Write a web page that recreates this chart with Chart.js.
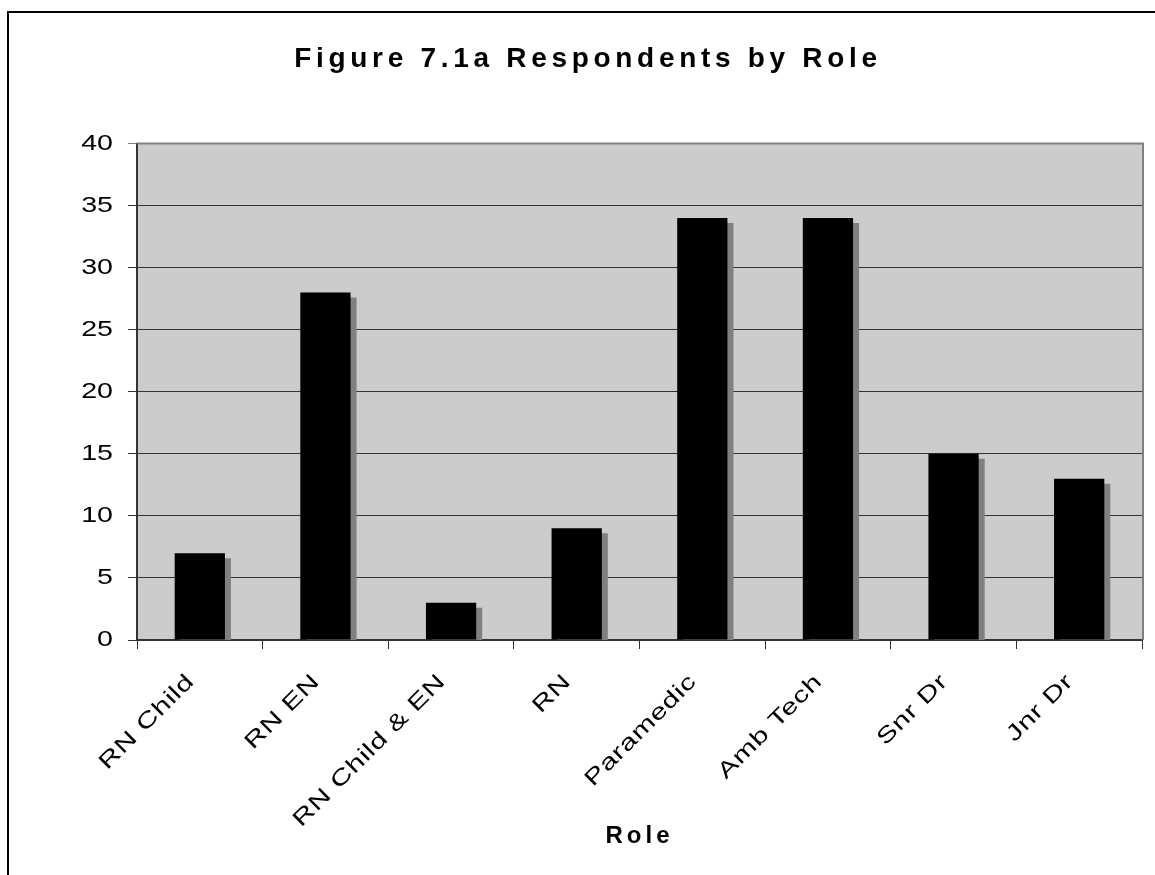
<!DOCTYPE html>
<html>
<head>
<meta charset="utf-8">
<script src="https://cdn.jsdelivr.net/npm/chart.js@4"></script>
<style>
  html, body { margin: 0; padding: 0; background: #ffffff; }
  #wrap { width: 1155px; height: 875px; }
</style>
</head>
<body>
<div id="wrap"><canvas id="c" width="1155" height="875"></canvas></div>
<script>
const categories = ["RN Child", "RN EN", "RN Child & EN", "RN", "Paramedic", "Amb Tech", "Snr Dr", "Jnr Dr"];
const respondents = [7, 28, 3, 9, 34, 34, 15, 13];
const yTicks = [0, 5, 10, 15, 20, 25, 30, 35, 40];
const chartTitle = "Figure 7.1a Respondents by Role";
const xTitle = "Role";

const FONT = "'Liberation Sans', Arial, sans-serif";

// draw text of a chart part with letter spacing and/or horizontal glyph stretch
function wrapText(ctx, obj, name, spacing, stretch) {
  if (!obj || !obj[name] || obj[name].__wrapped) return;
  const orig = obj[name];
  const f = function (...args) {
    ctx.save();
    ctx.letterSpacing = spacing;
    const protoFill = CanvasRenderingContext2D.prototype.fillText;
    if (stretch !== 1) {
      ctx.fillText = function (text, x, y) {
        ctx.save();
        ctx.translate(x, y);
        ctx.scale(stretch, 1);
        protoFill.call(ctx, text, 0, 0);
        ctx.restore();
      };
    }
    let r;
    try { r = orig.apply(this, args); }
    finally { delete ctx.fillText; ctx.restore(); }
    return r;
  };
  f.__wrapped = true;
  obj[name] = f;
}

const framePlugin = {
  id: 'frame',
  beforeDraw(chart) {
    const ctx = chart.ctx;
    const a = chart.chartArea;
    ctx.save();
    ctx.fillStyle = '#ffffff';
    ctx.fillRect(0, 0, chart.width, chart.height);
    ctx.strokeStyle = '#000000';
    ctx.lineWidth = 2;
    ctx.strokeRect(8, 12, chart.width + 20, chart.height + 20);
    ctx.fillStyle = '#cccccc';
    ctx.fillRect(a.left, a.top, a.right - a.left, a.bottom - a.top);
    ctx.restore();

    wrapText(ctx, chart.titleBlock, 'draw', '4.7px', 1);
    wrapText(ctx, chart.scales.x, 'drawTitle', '4px', 1);
    wrapText(ctx, chart.scales.x, 'drawLabels', '0.5px', 1.35);
    wrapText(ctx, chart.scales.y, 'drawLabels', '0px', 1.3);
  },
  beforeDatasetsDraw(chart) {
    const ctx = chart.ctx;
    ctx.save();
    ctx.shadowColor = '#808080';
    ctx.shadowOffsetX = 6;
    ctx.shadowOffsetY = 5;
    ctx.shadowBlur = 0;
  },
  afterDatasetsDraw(chart) {
    const ctx = chart.ctx;
    ctx.restore();
    const a = chart.chartArea;
    ctx.save();
    ctx.strokeStyle = '#808080';
    ctx.lineWidth = 2;
    ctx.beginPath();
    ctx.moveTo(a.left, a.top);
    ctx.lineTo(a.right + 1, a.top);
    ctx.lineTo(a.right + 1, a.bottom);
    ctx.stroke();
    ctx.restore();
  }
};

new Chart(document.getElementById('c'), {
  type: 'bar',
  data: {
    labels: categories,
    datasets: [{
      label: 'Respondents',
      data: respondents,
      backgroundColor: '#000000',
      borderWidth: 0,
      barPercentage: 0.4,
      categoryPercentage: 1.0,
      clip: 0
    }]
  },
  options: {
    responsive: false,
    devicePixelRatio: 1,
    animation: false,
    layout: { padding: { left: 34, right: 13, top: 0, bottom: 0 } },
    plugins: {
      legend: { display: false },
      tooltip: { enabled: false },
      title: {
        display: true,
        text: chartTitle,
        color: '#000000',
        font: { family: FONT, size: 28, weight: 'bold', lineHeight: 1.2 },
        padding: { top: 42, bottom: 68 }
      }
    },
    scales: {
      x: {
        grid: {
          display: true,
          drawOnChartArea: false,
          drawTicks: true,
          offset: true,
          tickLength: 9,
          color: '#333333',
          lineWidth: 1
        },
        border: { display: true, color: '#333333', width: 2 },
        ticks: {
          color: '#000000',
          font: { family: FONT, size: 22 },
          minRotation: 45,
          maxRotation: 45,
          autoSkip: false,
          padding: 20,
          labelOffset: -9
        },
        title: {
          display: true,
          text: xTitle,
          color: '#000000',
          font: { family: FONT, size: 24, weight: 'bold', lineHeight: 1.2 },
          padding: { top: 0, bottom: 24 }
        },
        afterFit(scale) { scale.height = 875 - 640; }
      },
      y: {
        min: 0,
        max: 40,
        afterBuildTicks(scale) { scale.ticks = yTicks.map(v => ({ value: v })); },
        grid: {
          color: (c) => (c.tick && c.tick.value === 40) ? '#808080' : '#333333',
          lineWidth: 1,
          tickLength: 9,
          drawTicks: true
        },
        border: { display: true, color: '#333333', width: 2 },
        ticks: {
          color: '#000000',
          font: { family: FONT, size: 22 },
          padding: 15,
          stepSize: 5
        },
        afterFit(scale) { scale.width = 103; }
      }
    }
  },
  plugins: [framePlugin]
});
</script>
</body>
</html>
